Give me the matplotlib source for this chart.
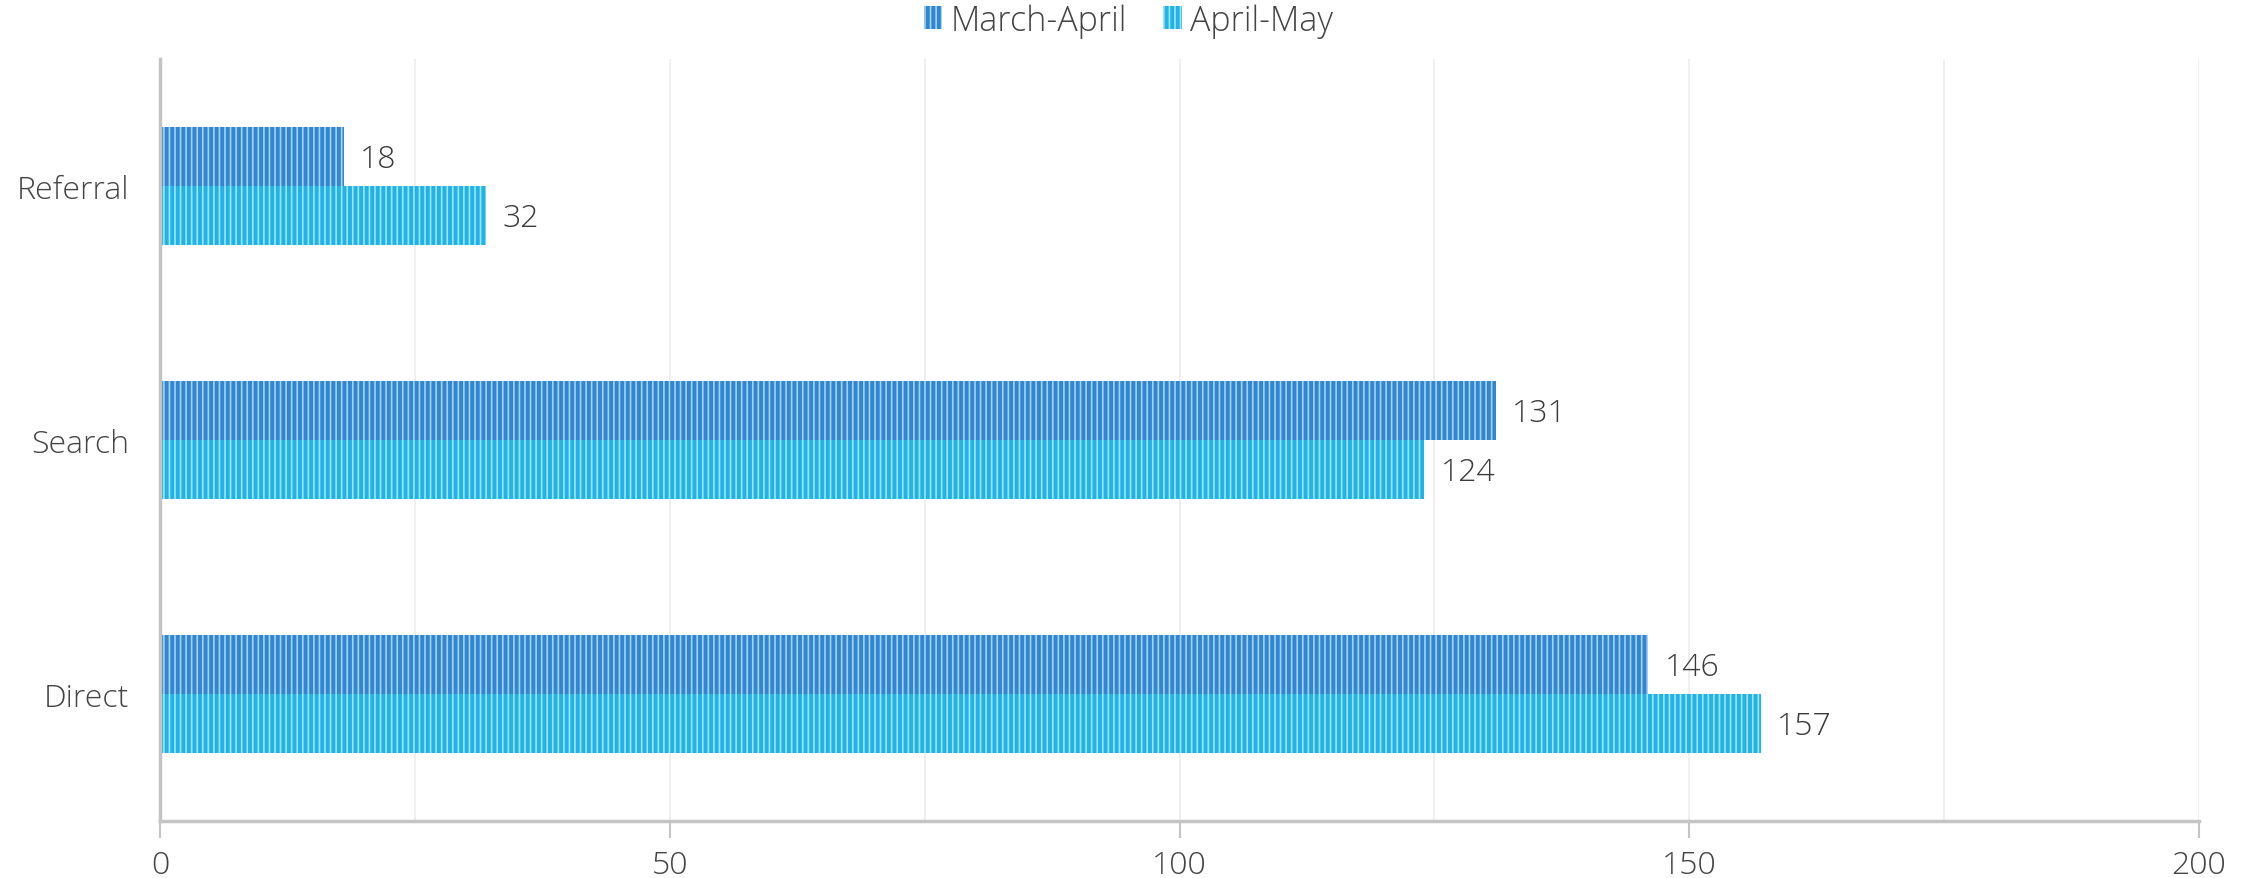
import numpy as np
import matplotlib.pyplot as plt
from matplotlib.patches import Patch

# ---------------- Data ----------------
categories = ["Referral", "Search", "Direct"]
march_april = [18, 131, 146]
april_may = [32, 124, 157]
series_names = ["March-April", "April-May"]
x_ticks = [0, 50, 100, 150, 200]

# ---------------- Style ----------------
plt.rcParams["font.family"] = ["Open Sans", "DejaVu Sans"]
plt.rcParams["hatch.linewidth"] = 1.2
axis_color = "#c4c4c4"
colors = ["#2f87d1", "#1fb4e6"]
stripe = ["#a9d0ef", "#a6e0f5"]
fs = 23
fw = "light"

fig = plt.figure(figsize=(22.57, 8.79), dpi=100)
ax = fig.add_axes([0.0709, 0.0648, 0.9034, 0.867])

y = np.arange(len(categories))
h = 0.232
for vals, off, c, s in [
    (march_april, -h / 2, colors[0], stripe[0]),
    (april_may, h / 2, colors[1], stripe[1]),
]:
    ax.barh(y + off, vals, height=h, color=c, linewidth=0, zorder=2)
    ax.barh(y + off, vals, height=h, facecolor="none", edgecolor=s,
            hatch="|||", linewidth=0, zorder=3)
    for yy, v in zip(y + off, vals):
        ax.text(v + 1.6, yy + 0.01, str(v), va="center", ha="left",
                fontsize=fs, fontweight=fw, color="#3a3a3a", zorder=4)

# legend handles drawn like the bars
handles = [
    Patch(facecolor=colors[0], edgecolor=stripe[0], hatch="|||", linewidth=0),
    Patch(facecolor=colors[1], edgecolor=stripe[1], hatch="|||", linewidth=0),
]
leg = fig.legend(handles, series_names, loc="upper center", bbox_to_anchor=(0.5, 1.03),
                 ncol=2, frameon=False, fontsize=fs + 1.5, labelcolor="#444444",
                 handlelength=0.55, handleheight=0.65, handletextpad=0.25,
                 columnspacing=1.05)
for t in leg.get_texts():
    t.set_fontweight(fw)

ax.set_xlim(0, 200)
ax.set_ylim(len(categories) - 0.5, -0.5)
ax.set_yticks(y)
ax.set_yticklabels(categories, fontweight=fw)
ax.set_xticks(x_ticks)
ax.set_xticklabels([str(t) for t in x_ticks], fontweight=fw)
ax.set_xticks(np.arange(25, 200, 50), minor=True)
ax.tick_params(axis="y", length=0, pad=22, labelsize=fs, labelcolor="#444444")
ax.tick_params(axis="x", which="major", length=12, width=1.5, color=axis_color,
               pad=8, labelsize=fs, labelcolor="#444444")
ax.tick_params(axis="x", which="minor", length=0)
ax.grid(axis="x", which="both", color="#ececec", linewidth=1.2, zorder=0)
ax.set_axisbelow(True)

for side in ["top", "right"]:
    ax.spines[side].set_visible(False)
for side in ["left", "bottom"]:
    ax.spines[side].set_color(axis_color)
    ax.spines[side].set_linewidth(2.5)

fig.savefig("out.png", dpi=100)
